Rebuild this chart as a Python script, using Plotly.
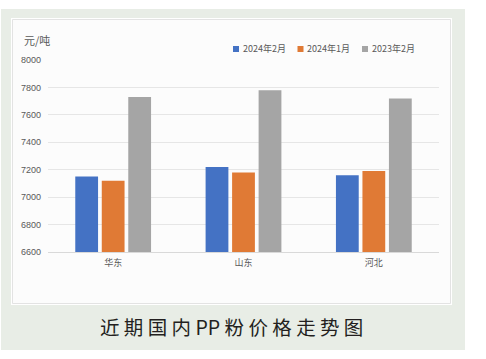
import plotly.graph_objects as go

categories = ["华东", "山东", "河北"]
series_names = ["2024年2月", "2024年1月", "2023年2月"]
feb_2024 = [7150, 7220, 7160]
jan_2024 = [7120, 7180, 7190]
feb_2023 = [7730, 7780, 7720]
colors = ["#4472C4", "#E07A35", "#A5A5A5"]
y_ticks = [6600, 6800, 7000, 7200, 7400, 7600, 7800, 8000]

W, H = 486, 359
ml, mr, mt, mb = 48, 47, 60, 107
pw, ph = W - ml - mr, H - mt - mb

def px(x):
    return (x - ml) / pw

def py(y):
    return (H - mb - y) / ph

fig = go.Figure()
for name, vals, c in zip(series_names, [feb_2024, jan_2024, feb_2023], colors):
    fig.add_trace(go.Bar(x=categories, y=vals, name=name, marker=dict(color=c, line=dict(width=0)),
                         showlegend=False))

cjk = "Noto Sans CJK SC"
shapes = [
    dict(type="rect", xref="paper", yref="paper", x0=px(1), x1=px(465), y0=py(350), y1=py(9),
         fillcolor="#E8EDE6", line=dict(width=0), layer="below"),
    dict(type="rect", xref="paper", yref="paper", x0=px(11), x1=px(452), y0=py(305), y1=py(18),
         fillcolor="white", line=dict(width=0), layer="below"),
    dict(type="rect", xref="paper", yref="paper", x0=px(12.5), x1=px(450.5), y0=py(303.5), y1=py(19.5),
         fillcolor="#FCFCFC", line=dict(width=1, color="#E3E3E3"), layer="below"),
]
annotations = [
    dict(text="元/吨", xref="paper", yref="paper", x=px(22), y=py(40), xanchor="left", yanchor="middle",
         showarrow=False, font=dict(size=11, color="#595959", family=cjk)),
    dict(text="近 期 国 内 PP 粉 价 格 走 势 图", xref="paper", yref="paper", x=px(231), y=py(326),
         xanchor="center", yanchor="middle", showarrow=False,
         font=dict(size=19.5, color="#231F20", family=cjk)),
]
# legend (manual, compact like the source)
legend_x = [233, 297.5, 362]
for lx, name, c in zip(legend_x, series_names, colors):
    shapes.append(dict(type="rect", xref="paper", yref="paper", x0=px(lx), x1=px(lx + 6),
                       y0=py(52), y1=py(46), fillcolor=c, line=dict(width=0)))
    annotations.append(dict(text=name, xref="paper", yref="paper", x=px(lx + 7.5), y=py(49),
                            xanchor="left", yanchor="middle", showarrow=False,
                            font=dict(size=9, color="#595959", family=cjk)))

fig.update_layout(
    width=W, height=H,
    margin=dict(l=ml, r=mr, t=mt, b=mb, autoexpand=False),
    paper_bgcolor="white", plot_bgcolor="rgba(0,0,0,0)",
    barmode="group", bargap=0.39, bargroupgap=0.14,
    font=dict(family=cjk, color="#595959", size=9),
    showlegend=False,
    xaxis=dict(showline=True, linecolor="#D9D9D9", linewidth=1, ticks="",
               tickfont=dict(size=9, color="#595959"), showgrid=False, ticklabelstandoff=2),
    yaxis=dict(range=[6600, 8000], tickvals=y_ticks, ticktext=[str(v) for v in y_ticks],
               gridcolor="#E6E6E6", gridwidth=1, zeroline=False, showline=False,
               tickfont=dict(size=9, color="#595959", family="Liberation Sans"), ticks="",
               ticklabelstandoff=6),
    shapes=shapes,
    annotations=annotations,
)
fig.write_html("out.html", config={"displayModeBar": False},
               post_script="document.body.style.margin='0';")
